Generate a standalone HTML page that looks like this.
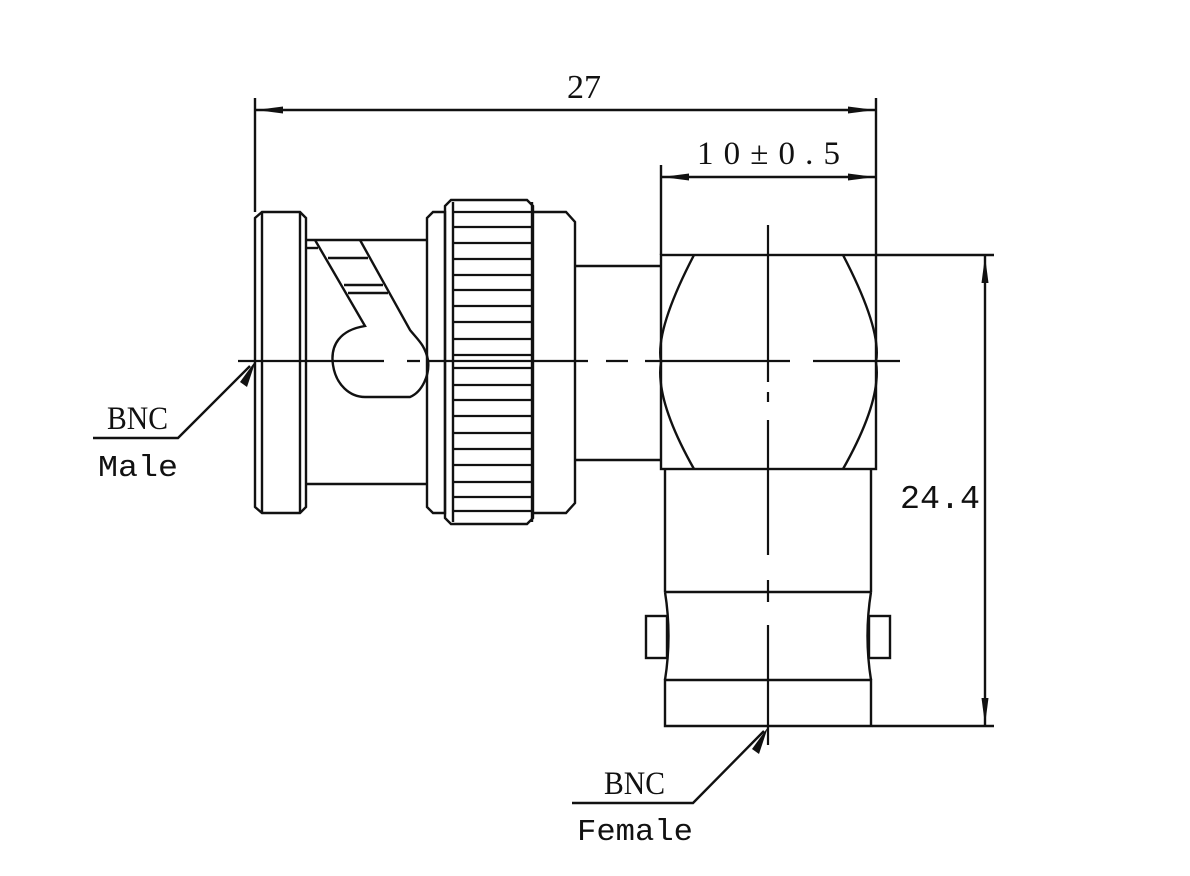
<!DOCTYPE html>
<html><head><meta charset="utf-8"><style>
html,body{margin:0;padding:0;background:#fff;}
svg{display:block;}
text{fill:#111;}
</style></head><body>
<svg width="1190" height="876" viewBox="0 0 1190 876" xmlns="http://www.w3.org/2000/svg">
<defs>
<marker id="a" markerWidth="28" markerHeight="10" refX="27" refY="5" orient="auto-start-reverse" markerUnits="userSpaceOnUse">
<path d="M0,1.5 L27,5 L0,8.5 Z" fill="#111"/></marker>
</defs>
<g stroke="#111" stroke-width="2.4" fill="none">
<line x1="255" y1="98" x2="255" y2="212"/>
<line x1="876" y1="98" x2="876" y2="255"/>
<line x1="256" y1="110" x2="875" y2="110" marker-start="url(#a)" marker-end="url(#a)"/>
<line x1="661" y1="165" x2="661" y2="255"/>
<line x1="662" y1="177" x2="875" y2="177" marker-start="url(#a)" marker-end="url(#a)"/>
<line x1="876" y1="255" x2="994" y2="255"/>
<line x1="872" y1="726" x2="994" y2="726"/>
<line x1="985" y1="256" x2="985" y2="725" marker-start="url(#a)" marker-end="url(#a)"/>

<path d="M262,212 H300 L306,218 V507 L300,513 H262 L255,507 V218 Z"/>
<line x1="262" y1="213" x2="262" y2="512"/>
<line x1="300" y1="213" x2="300" y2="512"/>
<line x1="306" y1="240" x2="428" y2="240"/>
<line x1="306" y1="484" x2="428" y2="484"/>
<path d="M315,240 L365,326 C340,330 330,345 333,365 C336,385 350,397 365,397 L410,397 C422,392 430,375 428,360 C425,345 418,340 410,330 L360,240"/>
<line x1="306" y1="248" x2="318" y2="248"/>
<line x1="328" y1="258" x2="368" y2="258"/>
<line x1="344" y1="285" x2="383" y2="285"/>
<line x1="348" y1="293" x2="388" y2="293"/>
<path d="M433,212 H445 V513 H433 L427,507 V218 Z"/>
<path d="M451,200 H527 L533,206 V518 L527,524 H451 L445,518 V206 Z"/>
<line x1="453" y1="202" x2="453" y2="522"/>
<line x1="532" y1="202" x2="532" y2="522"/>
<path d="M533,212 H566 L575,222 V503 L566,513 H533"/>
<line x1="575" y1="266" x2="661" y2="266"/>
<line x1="575" y1="460" x2="661" y2="460"/>
<rect x="661" y="255" width="215" height="214"/>
<path d="M694,255 Q655,330 661,362 Q655,400 694,469"/>
<path d="M843,255 Q882,330 876,362 Q882,400 843,469"/>
<path d="M665,469 V592 M871,469 V592"/>
<line x1="665" y1="592" x2="871" y2="592"/>
<path d="M665,592 Q672,636 665,680 M871,592 Q864,636 871,680"/>
<rect x="646" y="616" width="21" height="42"/>
<rect x="869" y="616" width="21" height="42"/>
<path d="M665,680 H871 V726 H665 Z"/>
<polyline points="93,438 178,438 250,366"/>
<polyline points="572,803 693,803 764,731"/>
</g>
<g stroke="#111" stroke-width="2.2">
<line x1="453" y1="212" x2="532" y2="212"/><line x1="453" y1="227" x2="532" y2="227"/>
<line x1="453" y1="243" x2="532" y2="243"/><line x1="453" y1="259" x2="532" y2="259"/>
<line x1="453" y1="275" x2="532" y2="275"/><line x1="453" y1="290" x2="532" y2="290"/>
<line x1="453" y1="306" x2="532" y2="306"/><line x1="453" y1="322" x2="532" y2="322"/>
<line x1="453" y1="339" x2="532" y2="339"/><line x1="453" y1="355" x2="532" y2="355"/>
<line x1="453" y1="368" x2="532" y2="368"/><line x1="453" y1="385" x2="532" y2="385"/>
<line x1="453" y1="400" x2="532" y2="400"/><line x1="453" y1="416" x2="532" y2="416"/>
<line x1="453" y1="433" x2="532" y2="433"/><line x1="453" y1="449" x2="532" y2="449"/>
<line x1="453" y1="465" x2="532" y2="465"/><line x1="453" y1="482" x2="532" y2="482"/>
<line x1="453" y1="497" x2="532" y2="497"/><line x1="453" y1="511" x2="532" y2="511"/>
</g>
<g stroke="#111" stroke-width="2.2" fill="none">
<path d="M238,361 H384 M407,361 H420 M428,361 H588 M606,361 H628 M645,361 H790 M813,361 H900" />
<path d="M768,225 V382 M768,392 V402 M768,420 V555 M768,580 V602 M768,625 V745"/>
</g>
<path d="M256,360 L240,382 L247,387 Z" fill="#111"/>
<path d="M768,727 L752,749 L759,754 Z" fill="#111"/>
<g font-family="'Liberation Serif', serif" font-size="34">
<text x="567" y="98">27</text>
<text x="697" y="164" font-size="33" textLength="143" lengthAdjust="spacing">10±0.5</text>
<text x="900" y="508" font-family="'Liberation Mono', monospace" font-size="33" textLength="80" lengthAdjust="spacingAndGlyphs">24.4</text>
<text x="107" y="429" font-size="33" textLength="61" lengthAdjust="spacingAndGlyphs">BNC</text>
<text x="98" y="476" font-family="'Liberation Mono', monospace" font-size="31" textLength="80" lengthAdjust="spacingAndGlyphs">Male</text>
<text x="604" y="794" font-size="33" textLength="61" lengthAdjust="spacingAndGlyphs">BNC</text>
<text x="577" y="840" font-family="'Liberation Mono', monospace" font-size="31" textLength="116" lengthAdjust="spacingAndGlyphs">Female</text>
</g>
</svg>
</body></html>
